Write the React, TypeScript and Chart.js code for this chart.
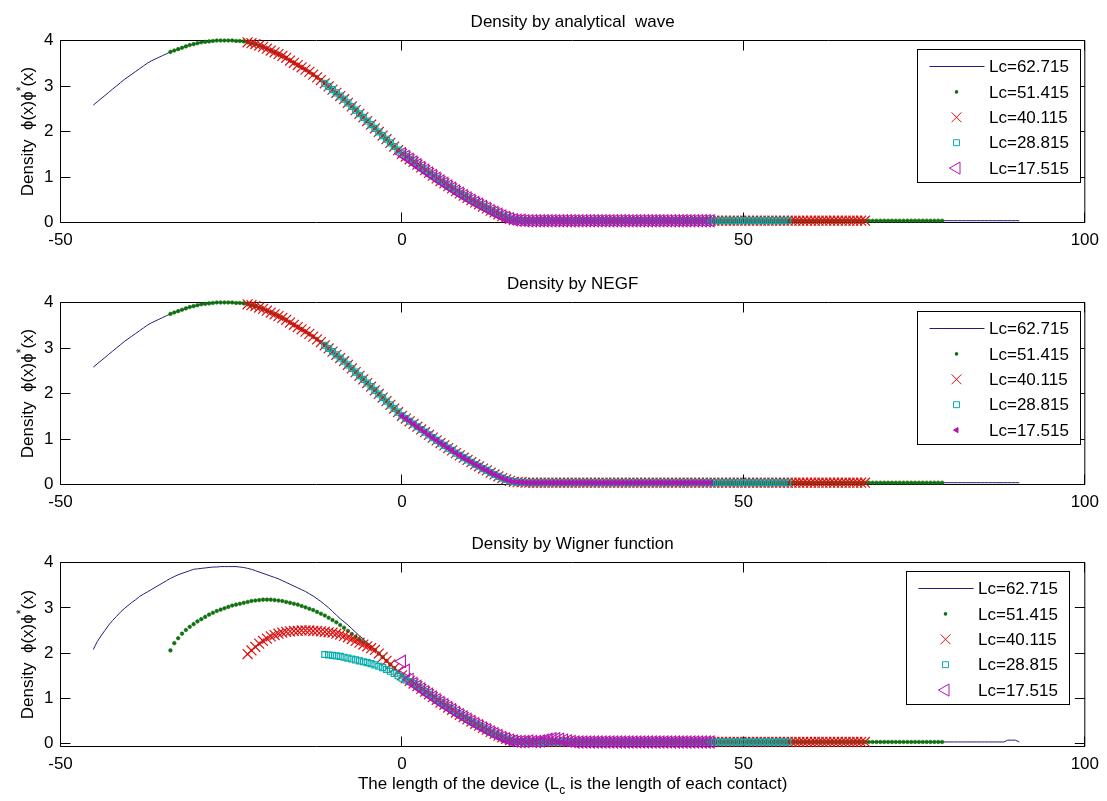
import React, { useEffect, useRef } from "react";
import { Chart, registerables } from "chart.js";

Chart.register(...registerables);

// All curves are sampled on one uniform device grid that starts at the
// left end of the device with the longest contacts (Lc = 62.715).
const X_START = -45.2;
const X_STEP = 0.565;
const GRID_SHIFT = 20; // grid points removed on each side per shorter contact

const contactLengths = [62.715, 51.415, 40.115, 28.815, 17.515];
const xTicks = [-50, 0, 50, 100];
const yTicks = [0, 1, 2, 3, 4];

// Density along the longest device (241 grid points); shorter devices are sub-ranges.
const analyticDensity = [
  2.58, 2.65, 2.72, 2.79, 2.86, 2.93, 3.0, 3.07, 3.14, 3.2, 3.26, 3.32, 3.38, 3.44, 3.5, 3.55, 3.59, 3.63, 3.67, 3.71,
  3.75, 3.78, 3.81, 3.84, 3.87, 3.9, 3.92, 3.94, 3.96, 3.97, 3.98, 3.99, 4.0, 4.0, 4.0, 4.0, 4.0, 3.99, 3.99, 3.98,
  3.96, 3.94, 3.92, 3.89, 3.86, 3.82, 3.78, 3.74, 3.7, 3.66, 3.62, 3.56, 3.51, 3.46, 3.41, 3.36, 3.31, 3.25, 3.19, 3.13,
  3.06, 2.99, 2.92, 2.85, 2.78, 2.71, 2.63, 2.55, 2.47, 2.39, 2.31, 2.23, 2.15, 2.07, 1.99, 1.91, 1.83, 1.75, 1.67, 1.59,
  1.51, 1.45, 1.39, 1.33, 1.27, 1.21, 1.15, 1.09, 1.03, 0.97, 0.91, 0.86, 0.8, 0.75, 0.69, 0.64, 0.59, 0.54, 0.49, 0.44,
  0.4, 0.35, 0.31, 0.26, 0.22, 0.18, 0.14, 0.11, 0.08, 0.06, 0.05, 0.05, 0.04, 0.04, 0.04, 0.04, 0.04, 0.04, 0.04, 0.04,
  0.04, 0.04, 0.04, 0.04, 0.04, 0.04, 0.04, 0.04, 0.04, 0.04, 0.04, 0.04, 0.04, 0.04, 0.04, 0.04, 0.04, 0.04, 0.04, 0.04,
  0.04, 0.04, 0.04, 0.04, 0.04, 0.04, 0.04, 0.04, 0.04, 0.04, 0.04, 0.04, 0.04, 0.04, 0.04, 0.04, 0.04, 0.04, 0.04, 0.04,
  0.04, 0.04, 0.04, 0.04, 0.04, 0.04, 0.04, 0.04, 0.04, 0.04, 0.04, 0.04, 0.04, 0.04, 0.04, 0.04, 0.04, 0.04, 0.04, 0.04,
  0.04, 0.04, 0.04, 0.04, 0.04, 0.04, 0.04, 0.04, 0.04, 0.04, 0.04, 0.04, 0.04, 0.04, 0.04, 0.04, 0.04, 0.04, 0.04, 0.04,
  0.04, 0.04, 0.04, 0.04, 0.04, 0.04, 0.04, 0.04, 0.04, 0.04, 0.04, 0.04, 0.04, 0.04, 0.04, 0.04, 0.04, 0.04, 0.04, 0.04,
  0.04, 0.04, 0.04, 0.04, 0.04, 0.04, 0.04, 0.04, 0.04, 0.04, 0.04, 0.04, 0.04, 0.04, 0.04, 0.04, 0.04, 0.04, 0.04, 0.04,
  0.04,
];

// The NEGF result coincides with the analytical wave on this grid.
const negfDensity = analyticDensity;

// Wigner-function densities: the parts that differ from the analytical profile.
const wignerHead62 = [
  2.08, 2.25, 2.38, 2.5, 2.62, 2.72, 2.81, 2.9, 2.98, 3.05,
  3.12, 3.18, 3.25, 3.3, 3.35, 3.4, 3.45, 3.5, 3.55, 3.6,
  3.65, 3.69, 3.73, 3.76, 3.79, 3.82, 3.85, 3.86, 3.87, 3.88,
  3.89, 3.9, 3.9, 3.91, 3.91, 3.91, 3.91, 3.91, 3.9, 3.89,
  3.87, 3.85, 3.82, 3.79, 3.76, 3.73, 3.7, 3.67, 3.64, 3.6,
  3.56, 3.52, 3.48, 3.44, 3.4, 3.36, 3.31, 3.26, 3.2, 3.14,
  3.07, 3.0, 2.92, 2.84, 2.76, 2.69, 2.62, 2.54, 2.46, 2.38,
  2.31, 2.23, 2.15,
];
const wignerEnd62 = [0.04, 0.08, 0.08, 0.08, 0.04];
const wignerHead51 = [
  2.06, 2.22, 2.33, 2.43, 2.51, 2.58, 2.64, 2.7, 2.75, 2.8,
  2.85, 2.89, 2.93, 2.96, 2.99, 3.02, 3.05, 3.07, 3.09, 3.11,
  3.13, 3.15, 3.16, 3.17, 3.18, 3.18, 3.18, 3.17, 3.16, 3.15,
  3.13, 3.11, 3.09, 3.07, 3.04, 3.01, 2.98, 2.95, 2.91, 2.87,
  2.83, 2.78, 2.73, 2.68, 2.62, 2.56, 2.49, 2.42, 2.36, 2.3,
  2.24, 2.19, 2.13,
];
const wignerHead40 = [
  1.98, 2.06, 2.14, 2.21, 2.27, 2.32, 2.37, 2.4, 2.43, 2.45,
  2.47, 2.48, 2.49, 2.49, 2.5, 2.5, 2.5, 2.49, 2.49, 2.48,
  2.47, 2.46, 2.45, 2.43, 2.41, 2.38, 2.35, 2.31, 2.27, 2.23,
  2.19, 2.15, 2.11, 2.07,
];
const wignerHead28 = [
  1.97, 1.96, 1.95, 1.94, 1.93, 1.91, 1.89, 1.87, 1.85, 1.83,
  1.81, 1.79, 1.77, 1.74, 1.71, 1.68, 1.64, 1.6, 1.55, 1.5,
  1.45, 1.41, 1.37,
];
const wigner17 = [
  1.82, 1.62, 1.42, 1.33, 1.27, 1.21, 1.15, 1.09, 1.03, 0.97,
  0.91, 0.86, 0.8, 0.75, 0.69, 0.64, 0.59, 0.54, 0.49, 0.44,
  0.4, 0.35, 0.31, 0.26, 0.22, 0.18, 0.14, 0.11, 0.08, 0.06,
  0.05, 0.05, 0.05, 0.06, 0.05, 0.05, 0.06, 0.08, 0.1, 0.11,
  0.11, 0.1, 0.08, 0.06, 0.05, 0.04, 0.04, 0.04, 0.04, 0.04,
  0.04, 0.04, 0.04, 0.04, 0.04, 0.04, 0.04, 0.04, 0.04, 0.04,
  0.04, 0.04, 0.04, 0.04, 0.04, 0.04, 0.04, 0.04, 0.04, 0.04,
  0.04, 0.04, 0.04, 0.04, 0.04, 0.04, 0.04, 0.04, 0.04, 0.04,
  0.04,
];

const GRID_LAST = analyticDensity.length - 1;

// Full Wigner curves for each contact length (head + shared profile).
const wignerDensity: number[][] = [
  [...wignerHead62, ...analyticDensity.slice(73, 236), ...wignerEnd62],
  [...wignerHead51, ...analyticDensity.slice(73, GRID_LAST - GRID_SHIFT + 1)],
  [...wignerHead40, ...analyticDensity.slice(74, GRID_LAST - 2 * GRID_SHIFT + 1)],
  [...wignerHead28, ...analyticDensity.slice(83, GRID_LAST - 3 * GRID_SHIFT + 1)],
  wigner17,
];

const FONT = '"Liberation Sans", Arial, Helvetica, sans-serif';
const NAVY = "#1f1f78";
const GREEN = "#0f700f";
const RED = "#dc1010";
const CYAN = "#06adad";
const MAGENTA = "#b414b4";

type Marker = { kind: "line" | "dot" | "cross" | "square" | "triangle"; color: string; radius: number; filled?: boolean };

const standardMarkers: Marker[] = [
  { kind: "line", color: NAVY, radius: 0 },
  { kind: "dot", color: GREEN, radius: 1.8 },
  { kind: "cross", color: RED, radius: 7 },
  { kind: "square", color: CYAN, radius: 4.2 },
  { kind: "triangle", color: MAGENTA, radius: 7 },
];
const negfMarkers: Marker[] = [
  ...standardMarkers.slice(0, 4),
  { kind: "triangle", color: MAGENTA, radius: 3, filled: true },
];

type PanelDef = {
  title: string;
  canvasTop: number;
  height: number;
  plotTop: number;
  plotBottom: number;
  yMin: number;
  legendLeft: number;
  curves: number[][];
  markers: Marker[];
  xLabel?: boolean;
};

function slicesOf(profile: number[]): number[][] {
  return contactLengths.map((_, k) => profile.slice(k * GRID_SHIFT, GRID_LAST - k * GRID_SHIFT + 1));
}

const panels: PanelDef[] = [
  {
    title: "Density by analytical  wave",
    canvasTop: 0, height: 262, plotTop: 40.5, plotBottom: 222.5, yMin: 0, legendLeft: 917,
    curves: slicesOf(analyticDensity), markers: standardMarkers,
  },
  {
    title: "Density by NEGF",
    canvasTop: 262, height: 260, plotTop: 40.5, plotBottom: 222.5, yMin: 0, legendLeft: 917,
    curves: slicesOf(negfDensity), markers: negfMarkers,
  },
  {
    title: "Density by Wigner function",
    canvasTop: 522, height: 279, plotTop: 40.5, plotBottom: 224.5, yMin: -0.06, legendLeft: 906,
    curves: wignerDensity, markers: standardMarkers, xLabel: true,
  },
];

function toPoints(values: number[], startIndex: number) {
  return values.map((y, j) => ({ x: +(X_START + (startIndex + j) * X_STEP).toFixed(3), y }));
}

function datasetFor(values: number[], k: number, m: Marker) {
  const base: any = {
    label: `Lc=${contactLengths[k]}`,
    data: toPoints(values, k * GRID_SHIFT),
    order: 5 - k, // later series are painted on top
    clip: false,
  };
  if (m.kind === "line") {
    return { ...base, showLine: true, borderColor: m.color, borderWidth: 1, pointRadius: 0 };
  }
  const style: any = { showLine: false, pointRadius: m.radius, pointBorderColor: m.color, pointBorderWidth: 1.2 };
  if (m.kind === "dot") {
    Object.assign(style, { pointStyle: "circle", pointBackgroundColor: m.color, pointBorderWidth: 0.6 });
  } else if (m.kind === "cross") {
    Object.assign(style, { pointStyle: "crossRot" });
  } else if (m.kind === "square") {
    Object.assign(style, { pointStyle: "rect", pointBackgroundColor: "rgba(0,0,0,0)" });
  } else {
    Object.assign(style, {
      pointStyle: "triangle",
      pointRotation: -90,
      pointBorderWidth: 1.1,
      pointBackgroundColor: m.filled ? m.color : "rgba(0,0,0,0)",
    });
  }
  return { ...base, ...style };
}

function drawMarker(ctx: CanvasRenderingContext2D, m: Marker, x: number, y: number, x1: number, x2: number) {
  ctx.save();
  ctx.strokeStyle = m.color;
  ctx.fillStyle = m.color;
  ctx.lineWidth = 1;
  ctx.beginPath();
  if (m.kind === "line") {
    ctx.moveTo(x1, y);
    ctx.lineTo(x2, y);
    ctx.stroke();
  } else if (m.kind === "dot") {
    ctx.arc(x, y, m.radius, 0, Math.PI * 2);
    ctx.fill();
  } else if (m.kind === "cross") {
    const d = m.radius * Math.SQRT1_2;
    ctx.moveTo(x - d, y - d);
    ctx.lineTo(x + d, y + d);
    ctx.moveTo(x + d, y - d);
    ctx.lineTo(x - d, y + d);
    ctx.stroke();
  } else if (m.kind === "square") {
    const s = m.radius * Math.SQRT1_2;
    ctx.rect(x - s, y - s, 2 * s, 2 * s);
    ctx.stroke();
  } else {
    const r = m.radius;
    ctx.moveTo(x - r, y);
    ctx.lineTo(x + r / 2, y - r * 0.866);
    ctx.lineTo(x + r / 2, y + r * 0.866);
    ctx.closePath();
    if (m.filled) ctx.fill();
    ctx.stroke();
  }
  ctx.restore();
}

// Draws a run of text pieces (size, baseline shift) centred on 0 along the current x axis.
function drawRichText(ctx: CanvasRenderingContext2D, parts: [string, number, number][]) {
  let total = 0;
  const widths = parts.map(([t, size]) => {
    ctx.font = `${size}px ${FONT}`;
    const w = ctx.measureText(t).width;
    total += w;
    return w;
  });
  let x = -total / 2;
  parts.forEach(([t, size, dy], i) => {
    ctx.font = `${size}px ${FONT}`;
    ctx.fillText(t, x, dy);
    x += widths[i];
  });
}

function decorations(panel: PanelDef) {
  return {
    id: "matlabAxes",
    beforeDatasetsDraw(chart: any) {
      const { ctx, chartArea: a, scales } = chart;
      const tl = 10;
      ctx.save();
      ctx.strokeStyle = "#000";
      ctx.lineWidth = 1;
      ctx.beginPath();
      ctx.rect(a.left, a.top, a.right - a.left, a.bottom - a.top);
      for (const v of xTicks) {
        const px = Math.round(scales.x.getPixelForValue(v) - 0.5) + 0.5;
        ctx.moveTo(px, a.bottom);
        ctx.lineTo(px, a.bottom - tl);
        ctx.moveTo(px, a.top);
        ctx.lineTo(px, a.top + tl);
      }
      for (const v of yTicks) {
        const py = Math.round(scales.y.getPixelForValue(v) - 0.5) + 0.5;
        ctx.moveTo(a.left, py);
        ctx.lineTo(a.left + tl, py);
        ctx.moveTo(a.right, py);
        ctx.lineTo(a.right - tl, py);
      }
      ctx.stroke();
      ctx.restore();
    },
    afterDraw(chart: any) {
      const { ctx, chartArea: a } = chart;
      ctx.save();
      ctx.fillStyle = "#000";

      // title
      ctx.font = `17px ${FONT}`;
      ctx.textAlign = "center";
      ctx.textBaseline = "alphabetic";
      ctx.fillText(panel.title, (a.left + a.right) / 2, a.top - 14);

      // y axis label with superscript
      ctx.save();
      ctx.translate(33, (a.top + a.bottom) / 2);
      ctx.rotate(-Math.PI / 2);
      ctx.textAlign = "left";
      drawRichText(ctx, [
        ["Density  \u03D5(x)\u03D5", 17, 0],
        ["*", 12, -8],
        ["(x)", 17, 0],
      ]);
      ctx.restore();

      // x axis label with subscript
      if (panel.xLabel) {
        ctx.save();
        ctx.translate((a.left + a.right) / 2, a.bottom + 42.5);
        ctx.textAlign = "left";
        drawRichText(ctx, [
          ["The length of the device (L", 17, 0],
          ["c", 12, 5],
          [" is the length of each contact)", 17, 0],
        ]);
        ctx.restore();
      }

      // legend
      const bx = panel.legendLeft + 0.5;
      const by = a.top + 9;
      ctx.fillStyle = "#fff";
      ctx.fillRect(bx, by, 163, 133);
      ctx.strokeStyle = "#000";
      ctx.lineWidth = 1;
      ctx.strokeRect(bx, by, 163, 133);
      ctx.font = `17px ${FONT}`;
      ctx.textAlign = "left";
      ctx.textBaseline = "middle";
      panel.markers.forEach((m, k) => {
        const ry = a.top + 26 + k * 25.4;
        drawMarker(ctx, m, bx + 39, ry, bx + 12, bx + 67);
        ctx.fillStyle = "#000";
        ctx.fillText(`Lc=${contactLengths[k]}`, bx + 71.5, ry + 1);
      });
      ctx.restore();
    },
  };
}

function Panel({ panel }: { panel: PanelDef }) {
  const ref = useRef<HTMLCanvasElement>(null);
  useEffect(() => {
    const datasets = panel.curves.map((c, k) => datasetFor(c, k, panel.markers[k]));
    const tickFont = { family: FONT, size: 17 };
    const chart = new Chart(ref.current as HTMLCanvasElement, {
      type: "scatter",
      data: { datasets },
      options: {
        responsive: false,
        animation: false,
        devicePixelRatio: 1,
        events: [],
        layout: {
          padding: {
            left: 0,
            right: 18.5,
            top: panel.plotTop,
            bottom: panel.height - panel.plotBottom - 30,
          },
        },
        plugins: { legend: { display: false }, tooltip: { enabled: false }, title: { display: false } },
        scales: {
          x: {
            type: "linear",
            min: -50,
            max: 100,
            grid: { display: false, drawTicks: false },
            border: { display: false },
            afterBuildTicks: (s: any) => {
              s.ticks = xTicks.map((v) => ({ value: v }));
            },
            afterFit: (s: any) => {
              s.height = 30;
            },
            ticks: {
              padding: 8,
              maxRotation: 0,
              autoSkip: false,
              color: "#000",
              font: tickFont,
              callback: (v: any) => String(v),
            },
          },
          y: {
            type: "linear",
            min: panel.yMin,
            max: 4,
            grid: { display: false, drawTicks: false },
            border: { display: false },
            afterBuildTicks: (s: any) => {
              s.ticks = yTicks.map((v) => ({ value: v }));
            },
            afterFit: (s: any) => {
              s.width = 60.5;
            },
            ticks: {
              padding: 7,
              autoSkip: false,
              color: "#000",
              font: tickFont,
              callback: (v: any) => String(v),
            },
          },
        },
      } as any,
      plugins: [decorations(panel)],
    });
    return () => chart.destroy();
  }, [panel]);
  return (
    <canvas
      ref={ref}
      width={1107}
      height={panel.height}
      style={{ position: "absolute", left: 0, top: panel.canvasTop, width: 1107, height: panel.height }}
    />
  );
}

export default function App() {
  return (
    <div style={{ position: "absolute", left: 0, top: 0, width: 1107, height: 801, background: "#fff", overflow: "hidden" }}>
      {panels.map((p) => (
        <Panel key={p.title} panel={p} />
      ))}
    </div>
  );
}
